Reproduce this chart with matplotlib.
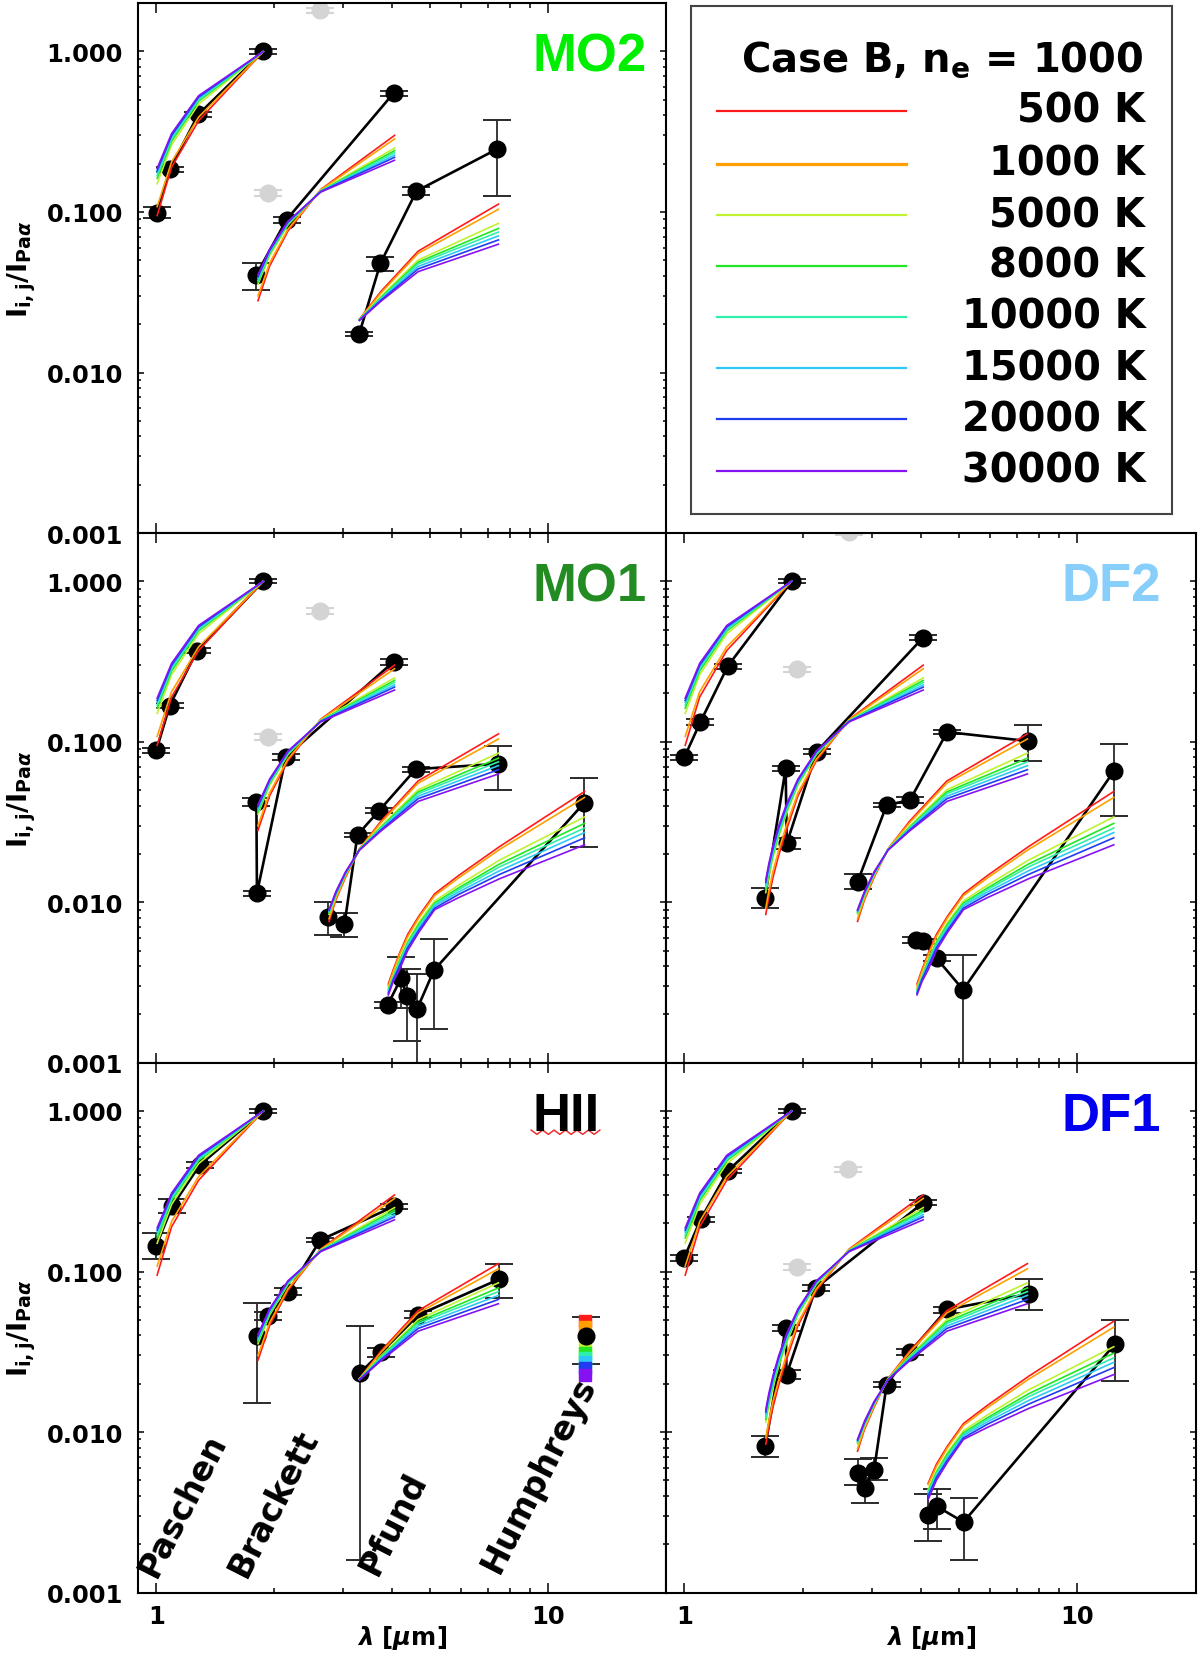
import numpy as np
import matplotlib
matplotlib.use('Agg')
import matplotlib.pyplot as plt
from matplotlib.ticker import FixedLocator, LogLocator, NullFormatter, FixedFormatter

plt.rcParams['font.family'] = ['DejaVu Sans']
plt.rcParams['font.weight'] = 'bold'
plt.rcParams['mathtext.fontset'] = 'dejavusans'

# ---------------- model tables (Case B, n_e = 1000) ----------------
TEMPS = [500, 1000, 5000, 8000, 10000, 15000, 20000, 30000]
COLORS = ['#ff1a1a', '#ffa000', '#bff230', '#22e622', '#2ef0a8', '#2ec8f8', '#1f3cf2', '#8412f2']

PA_WAVE = [1.005, 1.094, 1.282, 1.875]
PA_MODEL = [
    [0.095, 0.190, 0.370, 1.0],
    [0.108, 0.205, 0.390, 1.0],
    [0.150, 0.262, 0.470, 1.0],
    [0.162, 0.276, 0.490, 1.0],
    [0.169, 0.285, 0.500, 1.0],
    [0.176, 0.294, 0.511, 1.0],
    [0.181, 0.300, 0.520, 1.0],
    [0.187, 0.308, 0.530, 1.0],
]

BR_WAVE = [1.611, 1.641, 1.681, 1.737, 1.817, 1.945, 2.166, 2.626, 4.052]
BR_MODEL = [
    [0.0084, 0.0108, 0.0143, 0.0195, 0.0280, 0.0460, 0.0760, 0.138, 0.300],
    [0.0092, 0.0118, 0.0156, 0.0210, 0.0300, 0.0480, 0.0780, 0.137, 0.285],
    [0.0115, 0.0147, 0.0190, 0.0255, 0.0355, 0.0535, 0.0830, 0.136, 0.250],
    [0.0120, 0.0153, 0.0198, 0.0264, 0.0366, 0.0548, 0.0840, 0.135, 0.241],
    [0.0124, 0.0158, 0.0204, 0.0272, 0.0375, 0.0557, 0.0848, 0.135, 0.234],
    [0.0129, 0.0164, 0.0211, 0.0281, 0.0386, 0.0567, 0.0858, 0.134, 0.226],
    [0.0133, 0.0169, 0.0217, 0.0289, 0.0395, 0.0575, 0.0865, 0.134, 0.219],
    [0.0138, 0.0175, 0.0225, 0.0298, 0.0405, 0.0585, 0.0875, 0.133, 0.210],
]

PF_WAVE = [2.758, 2.873, 3.039, 3.297, 3.741, 4.654, 7.460]
PF_MODEL = [
    [0.0076, 0.0104, 0.0143, 0.0215, 0.0320, 0.0570, 0.112],
    [0.0079, 0.0106, 0.0145, 0.0215, 0.0313, 0.0552, 0.104],
    [0.0084, 0.0110, 0.0149, 0.0214, 0.0298, 0.0502, 0.085],
    [0.0086, 0.0112, 0.0150, 0.0213, 0.0293, 0.0487, 0.079],
    [0.0087, 0.0113, 0.0151, 0.0213, 0.0290, 0.0475, 0.075],
    [0.0088, 0.0114, 0.0152, 0.0212, 0.0286, 0.0458, 0.071],
    [0.0089, 0.0115, 0.0153, 0.0212, 0.0282, 0.0442, 0.067],
    [0.0090, 0.0117, 0.0155, 0.0211, 0.0278, 0.0425, 0.063],
]

HU_WAVE = [3.907, 4.021, 4.171, 4.376, 4.673, 5.129, 5.908, 7.503, 12.37]
HU_MODEL = [
    [0.00310, 0.0038, 0.0048, 0.0063, 0.0082, 0.0113, 0.0147, 0.0222, 0.0490],
    [0.00300, 0.0037, 0.0047, 0.0061, 0.0080, 0.0110, 0.0142, 0.0213, 0.0450],
    [0.00290, 0.0035, 0.0044, 0.0057, 0.0075, 0.0102, 0.0128, 0.0183, 0.0340],
    [0.00285, 0.0034, 0.0043, 0.0056, 0.0073, 0.0099, 0.0123, 0.0173, 0.0310],
    [0.00280, 0.0034, 0.0042, 0.0055, 0.0071, 0.0097, 0.0120, 0.0166, 0.0290],
    [0.00275, 0.0033, 0.0041, 0.0053, 0.0069, 0.0095, 0.0116, 0.0157, 0.0272],
    [0.00270, 0.0033, 0.0040, 0.0052, 0.0067, 0.0092, 0.0112, 0.0149, 0.0252],
    [0.00265, 0.0032, 0.0038, 0.0050, 0.0065, 0.0090, 0.0107, 0.0140, 0.0228],
]

# ---------------- observed line ratios ----------------
MO2_SER = ['Pa'] * 4 + ['Br'] * 3 + ['Pf'] * 4
MO2_X = [1.005, 1.082, 1.28, 1.875, 1.80, 2.15, 4.03, 3.29, 3.73, 4.61, 7.41]
MO2_Y = [0.099, 0.184, 0.405, 1.0, 0.0407, 0.0897, 0.55, 0.0173, 0.0479, 0.135, 0.247]
MO2_LO = [0.092, 0.177, 0.39, 0.97, 0.0329, 0.0860, 0.53, 0.0168, 0.0432, 0.128, 0.126]
MO2_HI = [0.108, 0.191, 0.42, 1.03, 0.0484, 0.0935, 0.57, 0.0178, 0.0521, 0.143, 0.372]
MO2_GRAY_X = [2.61, 1.93]
MO2_GRAY_Y = [1.80, 0.131]

MO1_SER = ['Pa'] * 4 + ['Br'] * 4 + ['Pf'] * 6 + ['Hu'] * 6
MO1_X = [1.0, 1.082, 1.27, 1.875,
         1.80, 1.806, 2.14, 4.03,
         2.74, 3.02, 3.26, 3.70, 4.59, 7.44,
         3.89, 4.21, 4.36, 4.62, 5.11, 12.32]
MO1_Y = [0.0883, 0.168, 0.369, 1.0,
         0.0423, 0.0114, 0.0804, 0.315,
         0.00813, 0.00732, 0.0263, 0.0372, 0.0675, 0.0728,
         0.00229, 0.00336, 0.00261, 0.00215, 0.00378, 0.0414]
MO1_LO = [0.085, 0.162, 0.356, 0.97,
          0.0400, 0.0110, 0.0770, 0.302,
          0.00625, 0.00605, 0.0254, 0.0358, 0.0650, 0.0501,
          0.00220, 0.00218, 0.00136, 0.0008, 0.00163, 0.0222]
MO1_HI = [0.0916, 0.174, 0.382, 1.03,
          0.0446, 0.0118, 0.0840, 0.328,
          0.0100, 0.0086, 0.0272, 0.0386, 0.0700, 0.0947,
          0.00238, 0.00458, 0.00382, 0.00360, 0.0059, 0.0598]
MO1_GRAY_X = [2.61, 1.93]
MO1_GRAY_Y = [0.653, 0.107]

DF2_SER = ['Pa'] * 4 + ['Br'] * 5 + ['Pf'] * 5 + ['Hu'] * 5
DF2_X = [1.0, 1.099, 1.29, 1.876,
         1.604, 1.81, 1.822, 2.17, 4.05,
         2.76, 3.27, 3.75, 4.66, 7.47,
         3.886, 4.05, 4.38, 5.12, 12.4]
DF2_Y = [0.080, 0.133, 0.296, 1.0,
         0.0107, 0.0682, 0.0233, 0.0867, 0.446,
         0.01345, 0.0403, 0.0433, 0.115, 0.101,
         0.00583, 0.0057, 0.00448, 0.00285, 0.066]
DF2_LO = [0.0772, 0.128, 0.285, 0.97,
          0.0092, 0.0660, 0.0215, 0.0840, 0.430,
          0.0121, 0.0390, 0.0415, 0.111, 0.0757,
          0.0056, 0.0055, 0.0043, 0.0002, 0.0343]
DF2_HI = [0.0828, 0.138, 0.307, 1.03,
          0.0123, 0.0705, 0.0250, 0.0900, 0.462,
          0.0149, 0.0417, 0.0451, 0.119, 0.127,
          0.0061, 0.0059, 0.0047, 0.0047, 0.0966]
DF2_GRAY_X = [2.62, 1.94]
DF2_GRAY_Y = [2.02, 0.282]

HII_SER = ['Pa'] * 4 + ['Br'] * 5 + ['Pf'] * 4 + ['Hu'] * 1
HII_X = [1.0, 1.098, 1.29, 1.875,
         1.81, 1.93, 2.17, 2.62, 4.05,
         3.31, 3.74, 4.66, 7.47,
         12.45]
HII_Y = [0.145, 0.255, 0.46, 1.0,
         0.0394, 0.053, 0.0747, 0.157, 0.255,
         0.0234, 0.0313, 0.0536, 0.0893,
         0.0394]
HII_LO = [0.119, 0.230, 0.44, 0.97,
          0.0151, 0.0500, 0.0710, 0.152, 0.245,
          0.0016, 0.0295, 0.0510, 0.0687,
          0.0265]
HII_HI = [0.174, 0.282, 0.48, 1.03,
          0.0640, 0.0560, 0.0790, 0.162, 0.265,
          0.0455, 0.0332, 0.0565, 0.111,
          0.0522]
HII_GRAY_X = []
HII_GRAY_Y = []

DF1_SER = ['Pa'] * 4 + ['Br'] * 5 + ['Pf'] * 7 + ['Hu'] * 4
DF1_X = [1.0, 1.10, 1.29, 1.875,
         1.606, 1.81, 1.82, 2.16, 4.05,
         2.758, 2.873, 3.039, 3.27, 3.75, 4.65, 7.53,
         4.17, 4.39, 5.13, 12.47]
DF1_Y = [0.122, 0.211, 0.423, 1.0,
         0.00814, 0.0445, 0.0228, 0.079, 0.268,
         0.00555, 0.00448, 0.00582, 0.0197, 0.0314, 0.058, 0.0726,
         0.00305, 0.00344, 0.00275, 0.0355]
DF1_LO = [0.117, 0.203, 0.408, 0.97,
          0.0070, 0.0425, 0.0215, 0.0755, 0.258,
          0.0047, 0.0036, 0.0050, 0.0190, 0.0300, 0.0555, 0.0576,
          0.0021, 0.0025, 0.0016, 0.0209]
DF1_HI = [0.127, 0.219, 0.438, 1.03,
          0.0094, 0.0465, 0.0242, 0.0825, 0.278,
          0.0068, 0.0052, 0.0069, 0.0205, 0.0330, 0.0605, 0.0893,
          0.0041, 0.0044, 0.0039, 0.0500]
DF1_GRAY_X = [2.61, 1.94]
DF1_GRAY_Y = [0.433, 0.107]

# first model line drawn in each panel (None = no model for that series)
MO2_MODEL_START = {'Pa': 1.005, 'Br': 1.817, 'Pf': 3.297, 'Hu': None}
MO1_MODEL_START = {'Pa': 1.005, 'Br': 1.817, 'Pf': 2.758, 'Hu': 3.907}
DF2_MODEL_START = {'Pa': 1.005, 'Br': 1.611, 'Pf': 2.758, 'Hu': 3.907}
HII_MODEL_START = {'Pa': 1.005, 'Br': 1.817, 'Pf': 3.297, 'Hu': 12.37}
DF1_MODEL_START = {'Pa': 1.005, 'Br': 1.611, 'Pf': 2.758, 'Hu': 4.171}

PANEL_NAMES = ['MO2', 'MO1', 'DF2', 'HII', 'DF1']
PANEL_COLORS = ['#00ee00', '#228b22', '#87cefa', '#000000', '#0000ee']
SERIES_LABELS = ['Paschen', 'Brackett', 'Pfund', 'Humphreys']
YTICKS = [0.001, 0.01, 0.1, 1.0]
XTICKS = [1, 10]

MODELS = {'Pa': (PA_WAVE, PA_MODEL), 'Br': (BR_WAVE, BR_MODEL),
          'Pf': (PF_WAVE, PF_MODEL), 'Hu': (HU_WAVE, HU_MODEL)}

PANELS = {
    'MO2': (MO2_SER, MO2_X, MO2_Y, MO2_LO, MO2_HI, MO2_GRAY_X, MO2_GRAY_Y, MO2_MODEL_START),
    'MO1': (MO1_SER, MO1_X, MO1_Y, MO1_LO, MO1_HI, MO1_GRAY_X, MO1_GRAY_Y, MO1_MODEL_START),
    'DF2': (DF2_SER, DF2_X, DF2_Y, DF2_LO, DF2_HI, DF2_GRAY_X, DF2_GRAY_Y, DF2_MODEL_START),
    'HII': (HII_SER, HII_X, HII_Y, HII_LO, HII_HI, HII_GRAY_X, HII_GRAY_Y, HII_MODEL_START),
    'DF1': (DF1_SER, DF1_X, DF1_Y, DF1_LO, DF1_HI, DF1_GRAY_X, DF1_GRAY_Y, DF1_MODEL_START),
}

# ---------------- layout ----------------
fig = plt.figure(figsize=(12, 16.56), dpi=100)
COL_X = [0.1153, 0.5553]
COL_W = [0.4400, 0.4412]
ROW_Y = [0.6775, 0.3576, 0.0377]
ROW_H = 0.3200
GRID = {'MO2': (0, 0), 'MO1': (1, 0), 'DF2': (1, 1), 'HII': (2, 0), 'DF1': (2, 1)}
LABEL_X = {'MO2': 0.9625, 'MO1': 0.9625, 'DF2': 0.935, 'HII': 0.873, 'DF1': 0.935}

TICK_FS = 17.5

for name, color in zip(PANEL_NAMES, PANEL_COLORS):
    r, c = GRID[name]
    ax = fig.add_axes([COL_X[c], ROW_Y[r], COL_W[c], ROW_H])
    ser, xs, ys, lo, hi, gx, gy, mstart = PANELS[name]
    xs = np.array(xs); ys = np.array(ys); lo = np.array(lo); hi = np.array(hi)
    ser = np.array(ser)

    # gray (excluded) measurements
    if len(gx):
        gxa = np.array(gx); gya = np.array(gy)
        ax.errorbar(gxa, gya, yerr=[gya * 0.04, gya * 0.04], fmt='o', ms=12,
                    color='#d4d4d4', ecolor='#d4d4d4', elinewidth=1.3,
                    capsize=10, capthick=1.5, zorder=1)

    # observed points, error bars, connecting lines
    ax.errorbar(xs, ys, yerr=[ys - lo, hi - ys], fmt='none', ecolor='#2a2a2a',
                elinewidth=1.3, capsize=10, capthick=1.4, zorder=1.2)
    for s in ['Pa', 'Br', 'Pf', 'Hu']:
        m = ser == s
        if m.sum() == 0:
            continue
        ax.plot(xs[m], ys[m], '-', color='black', lw=1.9, zorder=1.5)
        ax.plot(xs[m], ys[m], 'o', color='black', ms=12, zorder=1.6)

    # model curves
    for s in ['Pa', 'Br', 'Pf', 'Hu']:
        start = mstart[s]
        if start is None:
            continue
        wave, table = MODELS[s]
        idx = [i for i, w in enumerate(wave) if w >= start - 1e-6]
        for k, col in enumerate(COLORS):
            mx = [wave[i] for i in idx]
            my = [table[k][i] for i in idx]
            if len(mx) == 1:
                ax.plot(mx, my, ls='none', marker='s', ms=8.5, color=col,
                        mec=col, zorder=1.4)
            else:
                ax.plot(mx, my, '-', color=col, lw=1.2, zorder=3)

    ax.set_xscale('log'); ax.set_yscale('log')
    ax.set_xlim(0.9, 20); ax.set_ylim(0.001, 2.0)

    ax.xaxis.set_major_locator(FixedLocator(XTICKS))
    ax.xaxis.set_minor_locator(LogLocator(base=10, subs=np.arange(2, 10)))
    ax.yaxis.set_major_locator(FixedLocator(YTICKS))
    ax.yaxis.set_minor_locator(LogLocator(base=10, subs=np.arange(2, 10)))
    ax.xaxis.set_minor_formatter(NullFormatter())
    ax.yaxis.set_minor_formatter(NullFormatter())
    if r == 2:
        ax.xaxis.set_major_formatter(FixedFormatter(['1', '10']))
        ax.set_xlabel(r'$\lambda$ [$\mu$m]', fontsize=17.5, fontweight='bold')
        ax.xaxis.set_label_coords(0.5, -0.058)
    else:
        ax.xaxis.set_major_formatter(NullFormatter())
    if c == 0:
        ax.yaxis.set_major_formatter(FixedFormatter(['0.001', '0.010', '0.100', '1.000']))
        ax.set_ylabel(r'I$_{\mathbf{i,j}}$/I$_{\mathbf{Pa}\alpha}$', fontsize=19.5, fontweight='bold')
        ax.yaxis.set_label_coords(-0.19, 0.5)
    else:
        ax.yaxis.set_major_formatter(NullFormatter())

    ax.tick_params(axis='both', which='both', direction='in', top=True, right=True, width=1.1)
    ax.tick_params(axis='x', which='major', length=7, pad=8, labelsize=TICK_FS)
    ax.tick_params(axis='x', which='minor', length=3.6)
    ax.tick_params(axis='y', which='major', length=4.5, pad=11, labelsize=TICK_FS)
    ax.tick_params(axis='y', which='minor', length=2.4)
    for t in ax.get_xticklabels() + ax.get_yticklabels():
        t.set_fontweight('bold')
    for sp in ax.spines.values():
        sp.set_linewidth(1.5)

    ax.text(LABEL_X[name], 0.873, name, transform=ax.transAxes, ha='right', va='baseline',
            fontsize=38, fontweight='bold', color=color, family=['Liberation Sans', 'DejaVu Sans'])

    if name == 'HII':
        # red spell-check squiggle under the HII label
        zx = np.linspace(0.744, 0.874, 13)
        zy = 0.8687 + 0.004 * np.array([1, -1] * 6 + [1])
        ax.plot(zx, zy, '-', color='#ee3030', lw=1.1, transform=ax.transAxes, clip_on=False)
        pos = [(0.033, 0.027), (0.203, 0.027), (0.451, 0.032), (0.682, 0.035)]
        for lab, (px, py) in zip(SERIES_LABELS, pos):
            ax.text(px, py, lab, transform=ax.transAxes, rotation=63, rotation_mode='anchor',
                    ha='left', va='baseline', fontsize=24, fontweight='bold')

# ---------------- legend box ----------------
lax = fig.add_axes([0.5761, 0.689, 0.4002, 0.3066])
lax.set_xlim(0, 1); lax.set_ylim(0, 1)
lax.set_xticks([]); lax.set_yticks([])
for sp in lax.spines.values():
    sp.set_linewidth(1.5); sp.set_color('#444444')
lax.text(0.941, 0.873, r'Case B, n$_{\mathbf{e}}$ = 1000', ha='right', va='baseline',
         fontsize=28.8, fontweight='bold')
LEG_Y = [0.794, 0.690, 0.588, 0.489, 0.389, 0.287, 0.187, 0.085]
for T, col, yy in zip(TEMPS, COLORS, LEG_Y):
    lax.plot([0.053, 0.446], [yy, yy], '-', color=col, lw=2.3 if T == 1000 else 1.6)
    lax.text(0.945, yy, f'{T} K', ha='right', va='center', fontsize=28.8, fontweight='bold')

fig.savefig('out.png', dpi=100)
